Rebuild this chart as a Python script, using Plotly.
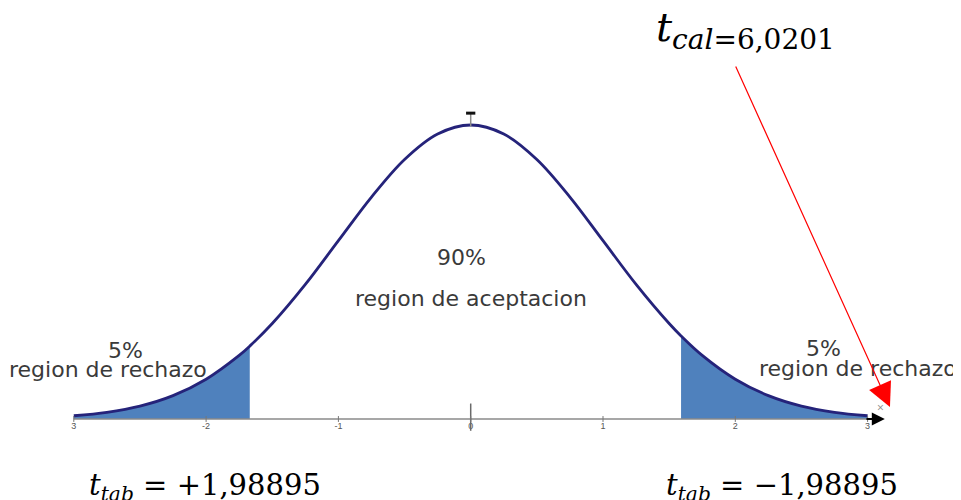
import plotly.graph_objects as go

# values (density curve heights)
x_vals = [-3.0, -2.75, -2.5, -2.25, -2.0, -1.75, -1.67, -1.5, -1.25, -1.0, -0.75, -0.5, -0.25,
          0.0, 0.25, 0.5, 0.75, 1.0, 1.25, 1.5, 1.59, 1.75, 2.0, 2.25, 2.5, 2.75, 3.0]
y_vals = [0.0044, 0.0091, 0.0175, 0.0317, 0.0540, 0.0863, 0.0989, 0.1295, 0.1826, 0.2420, 0.3011, 0.3521, 0.3867,
          0.3989, 0.3867, 0.3521, 0.3011, 0.2420, 0.1826, 0.1295, 0.1127, 0.0863, 0.0540, 0.0317, 0.0175, 0.0091, 0.0044]
crit_left = -1.67
crit_right = 1.59
tick_vals = [-3, -2, -1, 0, 1, 2, 3]
tick_text = ["3", "-2", "-1", "0", "1", "2", "3"]
t_cal = "6,0201"
t_tab_left = "+1,98895"
t_tab_right = "\u22121,98895"

FILL = "#4f81bd"
CURVE = "#25237a"

left_x = [x for x in x_vals if x <= crit_left]
left_y = [y for x, y in zip(x_vals, y_vals) if x <= crit_left]
right_x = [x for x in x_vals if x >= crit_right]
right_y = [y for x, y in zip(x_vals, y_vals) if x >= crit_right]

fig = go.Figure()
fig.add_trace(go.Scatter(x=left_x, y=left_y, mode="lines", line=dict(width=0, shape="spline"),
                         fill="tozeroy", fillcolor=FILL, hoverinfo="skip"))
fig.add_trace(go.Scatter(x=right_x, y=right_y, mode="lines", line=dict(width=0, shape="spline"),
                         fill="tozeroy", fillcolor=FILL, hoverinfo="skip"))
fig.add_trace(go.Scatter(x=x_vals, y=y_vals, mode="lines",
                         line=dict(color=CURVE, width=2.8, shape="spline")))

shapes = [
    dict(type="line", x0=-3.0, x1=3.0, y0=0, y1=0, line=dict(color="#8a8a8a", width=1.5)),
    dict(type="line", x0=0, x1=0, y0=-0.016, y1=0.021, line=dict(color="#6a6a6a", width=1.5)),
    dict(type="line", x0=0, x1=0, y0=0.397, y1=0.415, line=dict(color="#8a8a8a", width=1.5)),
    dict(type="line", x0=-0.035, x1=0.035, y0=0.415, y1=0.415, line=dict(color="#111111", width=3)),
]
for tv in tick_vals:
    shapes.append(dict(type="line", x0=tv, x1=tv, y0=-0.004, y1=0.004,
                       line=dict(color="#777777", width=1)))

TXT = dict(family="DejaVu Sans, Arial", size=22, color="#3a3a3a")
MATH = dict(family="DejaVu Serif", size=29, color="#000000")

# page pixel -> figure pixel offset (page body margin)
OFF = 8
W, H = 961, 500


def px(p):
    return (p - OFF) / W


def py(p):
    return 1 - (p - OFF) / H


annotations = [
    dict(x=-0.066, y=0.2185, text="90%", showarrow=False, font=TXT),
    dict(x=0.0, y=0.164, text="region de aceptacion", showarrow=False, font=TXT),
    dict(x=-2.61, y=0.0936, text="5%", showarrow=False, font=TXT),
    dict(x=-2.74, y=0.0678, text="region de rechazo", showarrow=False, font=TXT),
    dict(x=2.663, y=0.0963, text="5%", showarrow=False, font=TXT),
    dict(x=2.929, y=0.069, text="region de rechazo", showarrow=False, font=TXT),
    dict(x=3.1, y=0.016, text="\u00d7", showarrow=False, font=dict(size=12, color="#8a8a8a")),
    # axis arrow
    dict(x=3.13, y=0, ax=2.98, ay=0, axref="x", ayref="y", xref="x", yref="y", text="",
         showarrow=True, arrowhead=2, arrowsize=1.3, arrowwidth=2, arrowcolor="#000000"),
    # red arrow
    dict(x=3.169, y=0.0163, ax=1.998, ay=0.4803, axref="x", ayref="y", xref="x", yref="y", text="",
         showarrow=True, arrowhead=2, arrowsize=4, arrowwidth=1.2, arrowcolor="#ff0000"),
    dict(xref="paper", yref="paper", x=px(654), y=py(30), xanchor="left", yanchor="middle",
         text="<i>t</i><sub><i>cal</i>=" + t_cal + "</sub>", showarrow=False,
         font=dict(family="DejaVu Serif", size=40, color="#000000")),
    dict(xref="paper", yref="paper", x=px(87), y=py(487), xanchor="left", yanchor="middle",
         text="<i>t</i><sub><i>tab</i></sub> = " + t_tab_left, showarrow=False, font=MATH),
    dict(xref="paper", yref="paper", x=px(664), y=py(487), xanchor="left", yanchor="middle",
         text="<i>t</i><sub><i>tab</i></sub> = " + t_tab_right, showarrow=False, font=MATH),
]

# axis scale: x=0 at page px 470.7, 132.3 px/unit; y=0 at page px 419, 737 px/unit
x0_fig = 470.7 - OFF
y0_fig = 419 - OFF
x_lo, x_hi = -x0_fig / 132.3, (W - x0_fig) / 132.3
y_lo, y_hi = -(H - y0_fig) / 737, y0_fig / 737

fig.update_layout(
    width=W, height=H,
    margin=dict(l=0, r=0, t=0, b=0),
    paper_bgcolor="white", plot_bgcolor="white",
    showlegend=False,
    shapes=shapes,
    annotations=annotations,
    xaxis=dict(range=[x_lo, x_hi], showgrid=False, zeroline=False, showline=False,
               anchor="free", position=(0 - y_lo) / (y_hi - y_lo),
               tickvals=tick_vals, ticktext=tick_text, ticks="",
               tickfont=dict(size=9, color="#555555", family="Arial")),
    yaxis=dict(range=[y_lo, y_hi], visible=False),
)

fig.write_html("out.html")
